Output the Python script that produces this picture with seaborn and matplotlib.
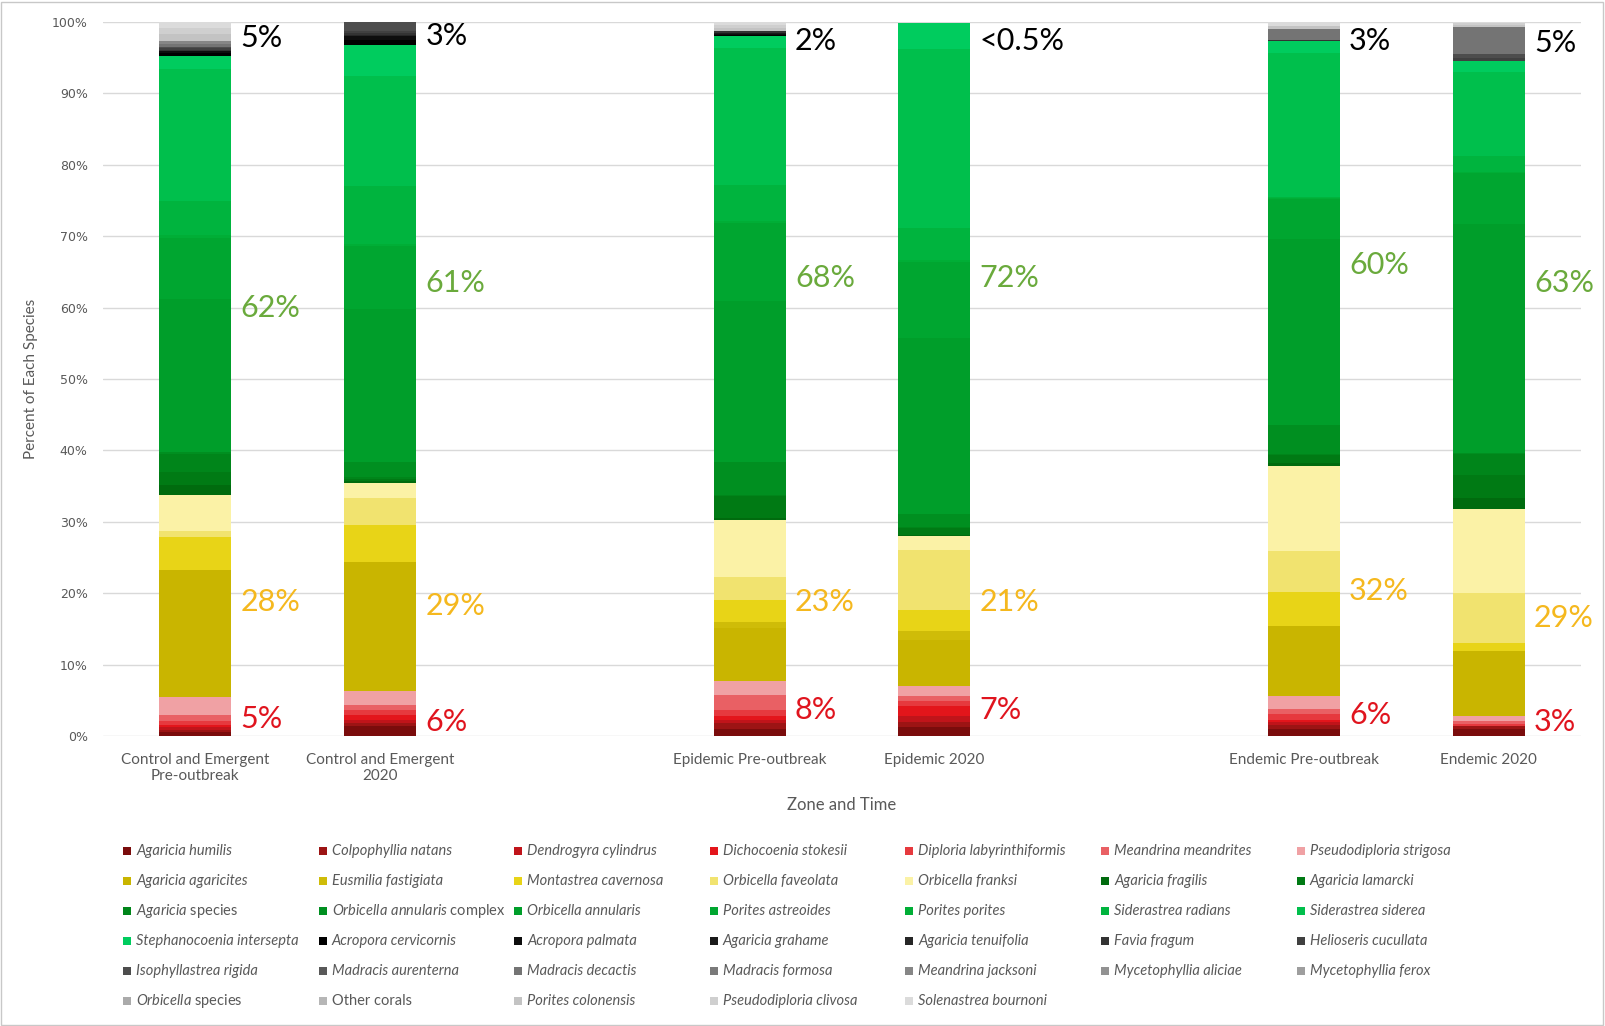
import numpy as np
import pandas as pd
import matplotlib
matplotlib.use("Agg")
import matplotlib.pyplot as plt
from matplotlib.patches import Rectangle
import seaborn as sns

# x axis: zone and time (empty slots between the three zones)
zones = ["Control and Emergent\nPre-outbreak", "Control and Emergent\n2020",
         "Epidemic Pre-outbreak", "Epidemic 2020",
         "Endemic Pre-outbreak", "Endemic 2020"]
zone_pos = [0, 1, 3, 4, 6, 7]

# percent of each species per bar
red_species = ["Agaricia humilis", "Colpophyllia natans", "Dendrogyra cylindrus",
               "Dichocoenia stokesii", "Diploria labyrinthiformis",
               "Meandrina meandrites", "Pseudodiploria strigosa"]
red_colors = ["#7A0C0C", "#9C1414", "#C0141A", "#E3151B", "#E6393E", "#E96064", "#F0A1A4"]
red_pct = [[0.5, 1.4, 1.0, 1.3, 1.0, 1.0],
           [0.4, 0.4, 0.8, 0.7, 0.6, 0.4],
           [0.4, 0.4, 0.4, 0.8, 0.4, 0.0],
           [0.3, 0.8, 0.6, 1.4, 0.3, 0.0],
           [0.5, 0.7, 0.8, 0.7, 0.8, 0.3],
           [0.8, 0.6, 2.2, 0.7, 0.7, 0.4],
           [2.5, 2.0, 1.9, 1.4, 1.8, 0.7]]

yellow_species = ["Agaricia agaricites", "Eusmilia fastigiata", "Montastrea cavernosa",
                  "Orbicella faveolata", "Orbicella franksi"]
yellow_colors = ["#C9B500", "#CFBC08", "#E8D417", "#F1E36F", "#FBF2A6"]
yellow_pct = [[17.8, 18.0, 7.4, 6.5, 9.8, 9.1],
              [0.0, 0.0, 0.8, 1.2, 0.0, 0.0],
              [4.7, 5.3, 3.1, 2.9, 4.7, 1.1],
              [0.8, 3.8, 3.2, 8.5, 5.8, 7.0],
              [5.0, 2.1, 8.1, 1.9, 11.9, 11.8]]

green_species = ["Agaricia fragilis", "Agaricia lamarcki", "Agaricia species",
                 "Orbicella annularis complex", "Orbicella annularis", "Porites astreoides",
                 "Porites porites", "Siderastrea radians", "Siderastrea siderea",
                 "Stephanocoenia intersepta"]
green_colors = ["#006B0E", "#007A14", "#00851A", "#008F20", "#009E2A",
                "#00A630", "#00AE36", "#00B43E", "#00BF4C", "#00CC5E"]
green_pct = [[1.5, 0.2, 0.2, 0.2, 0.5, 1.6],
             [1.8, 0.3, 3.1, 1.0, 1.0, 3.2],
             [2.5, 0.3, 0.2, 0.1, 0.2, 2.9],
             [0.3, 2.1, 4.6, 1.8, 4.0, 0.1],
             [21.4, 21.4, 22.5, 24.6, 26.1, 32.1],
             [8.6, 8.8, 11.0, 10.7, 5.6, 7.2],
             [0.3, 0.3, 0.2, 0.2, 0.1, 0.1],
             [4.8, 8.1, 5.1, 4.5, 0.2, 2.2],
             [18.5, 15.4, 19.2, 25.1, 20.2, 11.8],
             [1.9, 4.4, 1.6, 3.6, 1.6, 1.6]]

gray_species = ["Acropora cervicornis", "Acropora palmata", "Agaricia grahame",
                "Agaricia tenuifolia", "Favia fragum", "Helioseris cucullata",
                "Isophyllastrea rigida", "Madracis aurenterna", "Madracis decactis",
                "Madracis formosa", "Meandrina jacksoni", "Mycetophyllia aliciae",
                "Mycetophyllia ferox", "Orbicella species", "Other corals",
                "Porites colonensis", "Pseudodiploria clivosa", "Solenastrea bournoni"]
gray_colors = ["#000000", "#0D0D0D", "#1A1A1A", "#262626", "#333333", "#404040",
               "#4D4D4D", "#595959", "#747474", "#7A7A7A", "#868686", "#929292",
               "#9E9E9E", "#AAAAAA", "#B6B6B6", "#C3C3C3", "#CFCFCF", "#DBDBDB"]
gray_pct = [[0.3, 0.7, 0.2, 0.0, 0.1, 0.0],
            [0.3, 0.5, 0.1, 0.0, 0.0, 0.0],
            [0.0, 0.1, 0.1, 0.0, 0.0, 0.0],
            [0.0, 0.1, 0.1, 0.0, 0.0, 0.0],
            [0.2, 0.2, 0.2, 0.0, 0.1, 0.0],
            [0.2, 0.4, 0.1, 0.0, 0.0, 0.4],
            [0.2, 1.2, 0.0, 0.0, 0.0, 0.5],
            [0.0, 0.0, 0.0, 0.0, 0.0, 0.0],
            [0.4, 0.0, 0.0, 0.0, 1.5, 3.8],
            [0.0, 0.0, 0.0, 0.0, 0.0, 0.0],
            [0.5, 0.0, 0.0, 0.0, 0.0, 0.0],
            [0.0, 0.0, 0.0, 0.0, 0.0, 0.0],
            [0.0, 0.0, 0.0, 0.0, 0.0, 0.0],
            [0.0, 0.0, 0.0, 0.0, 0.0, 0.0],
            [0.0, 0.0, 0.0, 0.1, 0.0, 0.0],
            [0.9, 0.0, 0.4, 0.0, 0.5, 0.3],
            [0.8, 0.0, 0.4, 0.0, 0.0, 0.2],
            [0.9, 0.0, 0.4, 0.1, 0.5, 0.2]]

# group totals written beside each bar, and where they sit
gray_label = ["5%", "3%", "2%", "<0.5%", "3%", "5%"]
gray_label_y = [97.8, 98.1, 97.4, 97.4, 97.4, 97.1]
green_label = ["62%", "61%", "68%", "72%", "60%", "63%"]
green_label_y = [59.9, 63.5, 64.2, 64.2, 65.9, 63.4]
yellow_label = ["28%", "29%", "23%", "21%", "32%", "29%"]
yellow_label_y = [18.7, 18.2, 18.8, 18.8, 20.3, 16.5]
red_label = ["5%", "6%", "8%", "7%", "6%", "3%"]
red_label_y = [2.4, 2.0, 3.6, 3.7, 3.0, 2.0]

species = red_species + yellow_species + green_species + gray_species
colors = red_colors + yellow_colors + green_colors + gray_colors
pct = np.array(red_pct + yellow_pct + green_pct + gray_pct)

sns.set_style("white")
plt.rcParams['font.family'] = ['Lato', 'DejaVu Sans']
plt.rcParams['mathtext.fontset'] = 'custom'
plt.rcParams['mathtext.it'] = 'Lato:italic'
plt.rcParams['mathtext.rm'] = 'Lato'

W, H = 1605, 1026
fig = plt.figure(figsize=(W / 100, H / 100), dpi=100)
ax = fig.add_axes([103 / W, 1 - 736 / H, 1478 / W, 714 / H])

# stacked bars, one seaborn call per species
bottom = np.zeros(len(zone_pos))
for name, col, vals in zip(species, colors, pct):
    df = pd.DataFrame({"pos": zone_pos, "pct": vals})
    sns.barplot(data=df, x="pos", y="pct", native_scale=True, color=col,
                saturation=1, width=0.39, errorbar=None, bottom=bottom,
                linewidth=0, ax=ax)
    bottom = bottom + vals

ax.set_xlim(-0.5, 7.5)
ax.set_ylim(0, 100)
ax.set_xticks(zone_pos, zones)
ax.set_yticks(range(0, 101, 10), [f"{v}%" for v in range(0, 101, 10)])
ax.yaxis.grid(True, color="#D9D9D9", lw=1)
ax.set_axisbelow(True)
sns.despine(ax=ax, left=True, bottom=True)
ax.tick_params(axis="y", length=0, pad=11, labelsize=9, labelcolor="#595959")
ax.tick_params(axis="x", length=0, pad=12, labelsize=11, labelcolor="#595959")
for t in ax.get_yticklabels():
    t.set_fontfamily("DejaVu Sans")
for t in ax.get_xticklabels():
    t.set_multialignment("center")

ax.set_ylabel("Percent of Each Species", fontsize=11, color="#595959")
ax.yaxis.set_label_coords(-0.044, 0.5)
ax.set_xlabel("Zone and Time", fontsize=12, color="#595959")
ax.xaxis.set_label_coords(0.5, -0.085)

# group totals beside the bars
label_sets = [(gray_label, gray_label_y, "#000000"),
              (green_label, green_label_y, "#6AAA3C"),
              (yellow_label, yellow_label_y, "#F5B81E"),
              (red_label, red_label_y, "#E0141E")]
for texts, ys, col in label_sets:
    for p, s, y in zip(zone_pos, texts, ys):
        ax.text(p + 0.245, y, s, ha="left", va="center", fontsize=22, color=col)

# legend laid out like the original, 7 columns filled row by row
special = {"Agaricia species": r"$\mathit{Agaricia}$ species",
           "Orbicella annularis complex": r"$\mathit{Orbicella\ annularis}$ complex",
           "Orbicella species": r"$\mathit{Orbicella}$ species",
           "Other corals": "Other corals"}
for i, (name, col) in enumerate(zip(species, colors)):
    r, c = divmod(i, 7)
    xm = 127 + c * 195.6
    ym = 851 + r * 30
    fig.patches.append(Rectangle(((xm - 4) / W, 1 - (ym + 4) / H), 8 / W, 8 / H,
                                 transform=fig.transFigure, fc=col, ec="none"))
    if name in special:
        fig.text((xm + 9) / W, 1 - ym / H, special[name], ha="left", va="center",
                 fontsize=10.5, color="#595959")
    else:
        fig.text((xm + 9) / W, 1 - ym / H, name, ha="left", va="center",
                 fontsize=10.5, color="#595959", style="italic")

fig.patches.append(Rectangle((1 / W, 1 / H), (W - 3) / W, (H - 3) / H,
                             transform=fig.transFigure, fill=False, ec="#C8C8C8", lw=1))

fig.savefig("out.png", dpi=100)
